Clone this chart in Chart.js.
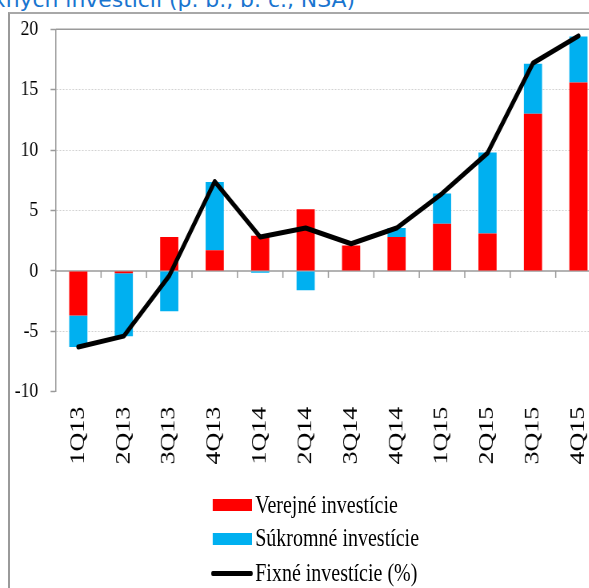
<!DOCTYPE html>
<html>
<head>
<meta charset="utf-8">
<script src="https://cdn.jsdelivr.net/npm/chart.js@4/dist/chart.umd.min.js"></script>
<style>
  html, body { margin: 0; padding: 0; background: #fff; }
  body { width: 589px; height: 588px; overflow: hidden; position: relative; }
  #title { position: absolute; right: 234px; top: -10px; white-space: nowrap;
           font-family: "DejaVu Sans", sans-serif; font-size: 21.9px; line-height: 20px; color: #1a75cf; }
  #frame { position: absolute; left: 8px; top: 12px; width: 700px; height: 700px;
           border-left: 2px solid #9a9a9a; border-top: 2px solid #a8a8a8; }
  #wrap { position: absolute; left: 0; top: 0; width: 770px; height: 588px;
          transform: scaleX(0.8); transform-origin: 0 0; }
  #c { position: absolute; left: 0; top: 0; }
  .leg { position: absolute; left: 266px; height: 30px; font-family: "Liberation Serif", serif;
         font-size: 25px; color: #000; white-space: nowrap; }
  .leg .box { position: absolute; left: 0; width: 49px; }
  .leg .txt { position: absolute; left: 53px; line-height: 30px; top: 0; }
</style>
</head>
<body>
<div id="title">fixných investícií (p. b., b. c., NSA)</div>
<div id="frame"></div>
<div id="wrap">
  <canvas id="c" width="770" height="480"></canvas>
  <div class="leg" style="top:490px"><div class="box" style="top:9px;height:12px;background:#ff0000"></div><div class="txt">Verejné investície</div></div>
  <div class="leg" style="top:523px"><div class="box" style="top:10px;height:12px;background:#00b0f0"></div><div class="txt">Súkromné investície</div></div>
  <div class="leg" style="top:558px"><div class="box" style="top:13px;height:5px;background:#000;border-radius:2px;left:-2px;width:52px"></div><div class="txt">Fixné investície (%)</div></div>
</div>
<script>
const categories = ['1Q13','2Q13','3Q13','4Q13','1Q14','2Q14','3Q14','4Q14','1Q15','2Q15','3Q15','4Q15'];
const verejne  = [-3.7, -0.2, 2.8, 1.7, 2.9, 5.1, 2.1, 2.8, 3.9, 3.1, 13.0, 15.6];
const sukromne = [-2.6, -5.2, -3.35, 5.65, -0.15, -1.6, 0, 0.75, 2.5, 6.7, 4.15, 3.8];
const fixne    = [-6.3, -5.4, -0.4, 7.4, 2.8, 3.55, 2.25, 3.55, 6.4, 9.75, 17.2, 19.45];
const yTicks   = [-10, -5, 0, 5, 10, 15, 20];

const axisGray = '#9a9a9a';

const axisLines = {
  id: 'axisLines',
  beforeDatasetsDraw(chart) {
    const {ctx, chartArea, scales: {x, y}} = chart;
    ctx.save();
    ctx.strokeStyle = axisGray;
    ctx.lineWidth = 1.5;
    const yt = y.getPixelForValue(20);
    ctx.beginPath(); ctx.moveTo(chartArea.left, yt); ctx.lineTo(chartArea.right, yt); ctx.stroke();
    const y0 = y.getPixelForValue(0);
    ctx.beginPath(); ctx.moveTo(chartArea.left, y0); ctx.lineTo(chartArea.right, y0); ctx.stroke();
    for (let i = 0; i < categories.length; i++) {
      const bx = (x.getPixelForValue(i) + x.getPixelForValue(i + 1)) / 2;
      ctx.beginPath(); ctx.moveTo(bx, y0); ctx.lineTo(bx, y0 + 7); ctx.stroke();
    }
    ctx.restore();
  }
};

new Chart(document.getElementById('c'), {
  type: 'bar',
  data: {
    labels: categories,
    datasets: [
      { type: 'line', label: 'Fixné investície (%)', data: fixne, borderColor: '#000', backgroundColor: '#000',
        borderWidth: 5, pointRadius: 0, tension: 0, stack: 'line', order: 0,
        borderJoinStyle: 'round', borderCapStyle: 'round' },
      { label: 'Verejné investície', data: verejne, backgroundColor: '#ff0000', stack: 'bars', order: 1,
        barPercentage: 0.4, categoryPercentage: 1 },
      { label: 'Súkromné investície', data: sukromne, backgroundColor: '#00b0f0', stack: 'bars', order: 2,
        barPercentage: 0.4, categoryPercentage: 1 }
    ]
  },
  options: {
    responsive: false,
    animation: false,
    layout: { padding: { left: 0, right: 17.7, top: 29.3, bottom: 0 } },
    plugins: { legend: { display: false }, tooltip: { enabled: false } },
    scales: {
      x: {
        stacked: true,
        grid: { display: false, drawTicks: false },
        border: { display: false },
        ticks: { autoSkip: false, minRotation: 90, maxRotation: 90, padding: 15, color: '#000',
                 font: { family: 'Liberation Serif', size: 26 } },
        afterFit: s => { s.height = 88.3; }
      },
      y: {
        stacked: true,
        min: -10, max: 20,
        afterBuildTicks: s => { s.ticks = yTicks.map(v => ({ value: v })); },
        grid: {
          color: c => (c.tick && (c.tick.value === 0 || c.tick.value === 20 || c.tick.value === -10)) ? 'rgba(0,0,0,0)' : '#cfcfcf',
          lineWidth: 1,
          tickColor: axisGray, tickLength: 6.25, tickWidth: 1.5, tickBorderDash: []
        },
        border: { display: true, color: axisGray, width: 1.5, dash: [2, 2] },
        ticks: { padding: 15.5, color: '#000', font: { family: 'Liberation Serif', size: 22 } },
        afterFit: s => { s.width = 69.5; }
      }
    }
  },
  plugins: [axisLines]
});
</script>
</body>
</html>
